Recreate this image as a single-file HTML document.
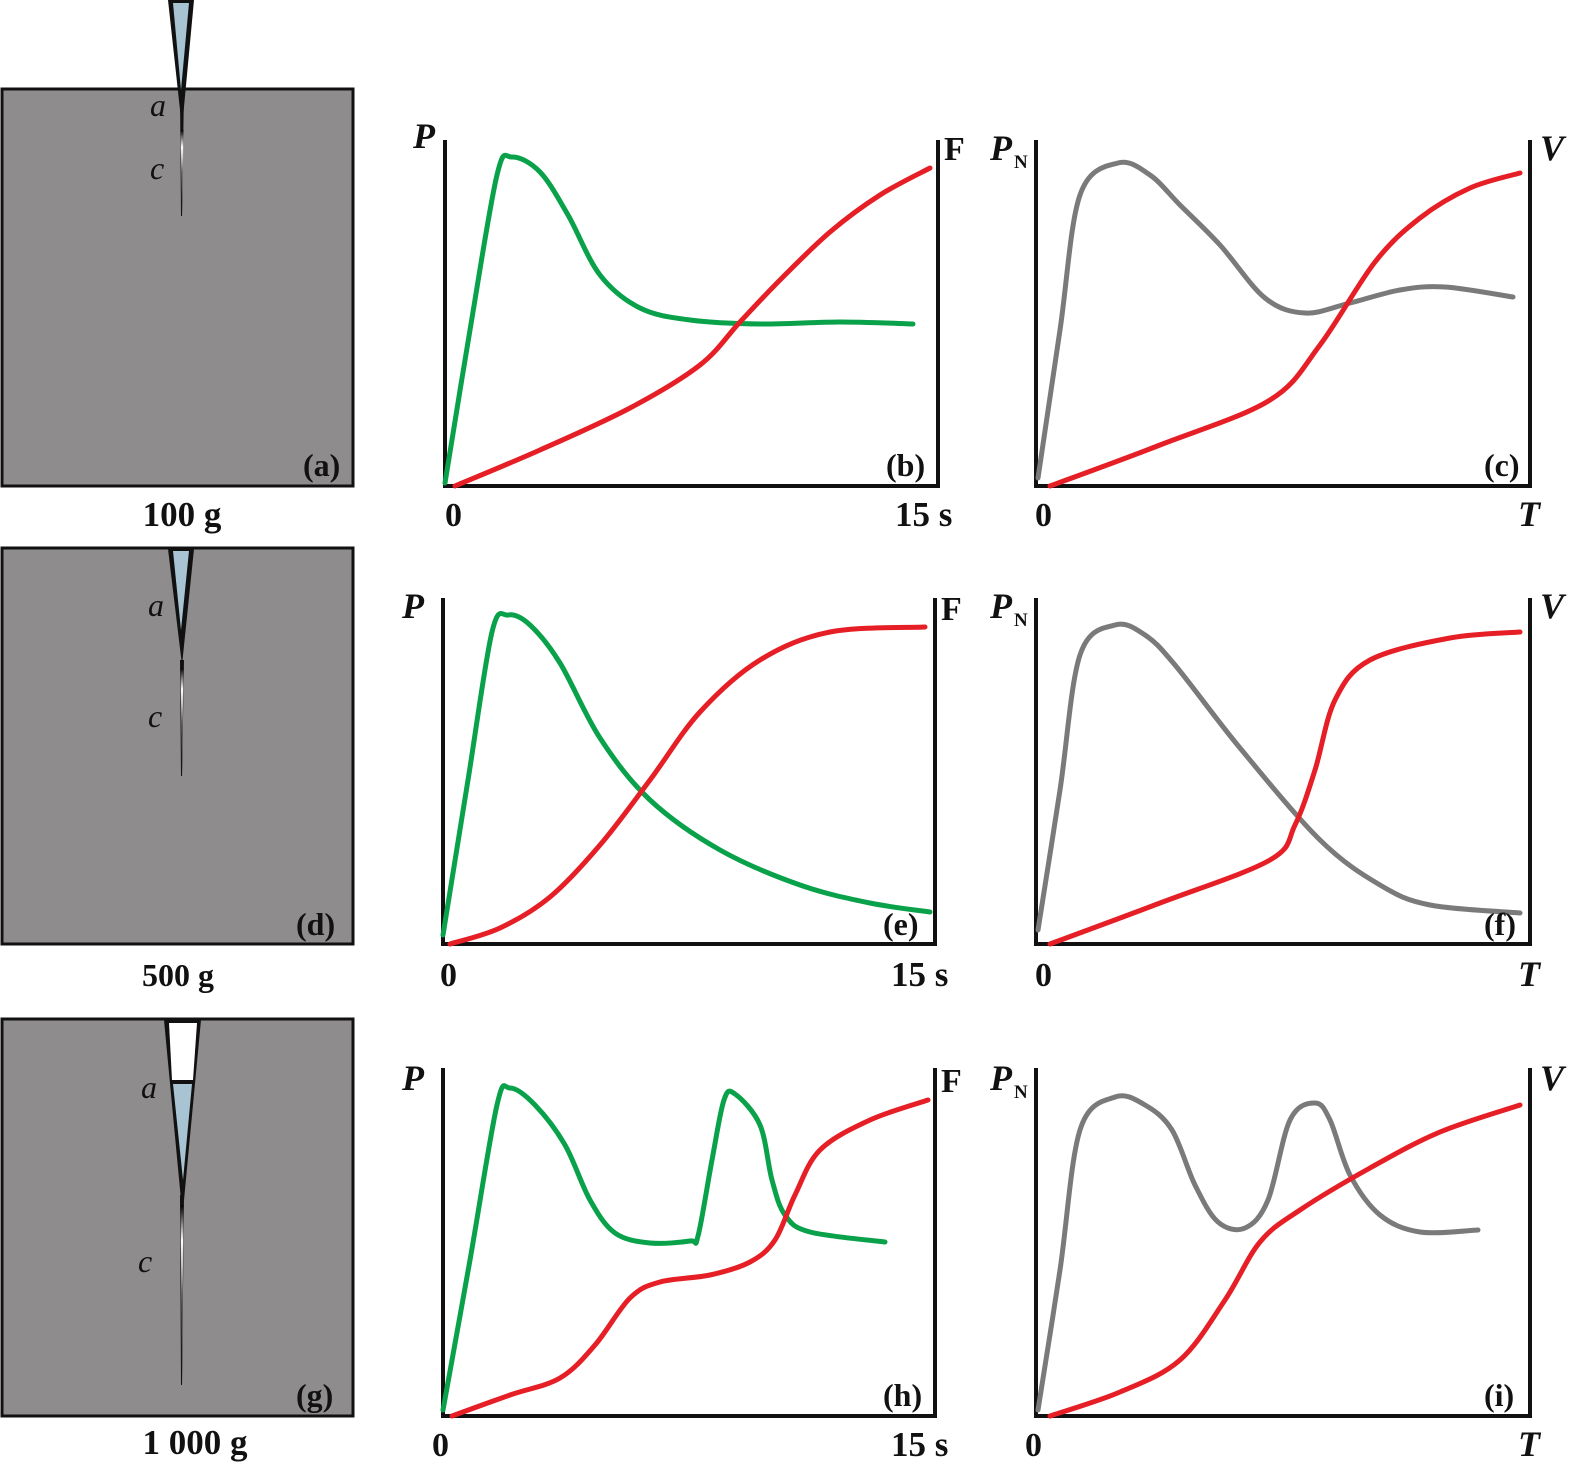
<!DOCTYPE html>
<html><head><meta charset="utf-8"><style>
html,body{margin:0;padding:0;background:#fff}
svg{display:block}
text{font-family:"Liberation Serif",serif;fill:#111}
</style></head><body>
<svg id="s" width="1587" height="1480" viewBox="0 0 1587 1480" xmlns="http://www.w3.org/2000/svg">
<defs>
<linearGradient id="cr" x1="0" y1="0" x2="0" y2="1">
<stop offset="0" stop-color="#000"/><stop offset="0.2" stop-color="#fff"/><stop offset="0.5" stop-color="#777"/><stop offset="1" stop-color="#111"/></linearGradient>
</defs>
<!-- panel a -->
<rect x="2" y="89" width="351" height="397" fill="#8e8c8d" stroke="#111" stroke-width="3"/>
<polygon points="168,0 194,0 182,128" fill="#111"/>
<polygon points="173,3 189,3 181,90" fill="#a8c3d1"/>
<polygon points="180,90 184,90 182,216 181,216" fill="#111"/>
<polygon points="180.5,130 183.5,130 182,216" fill="url(#cr)"/>
<text x="150" y="116" font-size="32" font-style="italic">a</text>
<text x="150" y="179" font-size="32" font-style="italic">c</text>
<text x="303" y="476" font-size="32" font-weight="bold">(a)</text>
<text x="182" y="526" font-size="35" font-weight="bold" text-anchor="middle">100 g</text>
<!-- panel d -->
<rect x="2" y="548" width="351" height="396" fill="#8e8c8d" stroke="#111" stroke-width="3"/>
<polygon points="168,549 194,549 182,665" fill="#111"/>
<polygon points="173,551 189,551 181,630" fill="#a8c3d1"/>
<polygon points="180,660 184,660 182,776 181,776" fill="#111"/>
<polygon points="180.5,668 183.5,668 182,776" fill="url(#cr)"/>
<text x="148" y="616" font-size="32" font-style="italic">a</text>
<text x="148" y="727" font-size="32" font-style="italic">c</text>
<text x="296" y="935" font-size="32" font-weight="bold">(d)</text>
<text x="178" y="986" font-size="32" font-weight="bold" text-anchor="middle">500 g</text>
<!-- panel g -->
<rect x="2" y="1019" width="351" height="397" fill="#8e8c8d" stroke="#111" stroke-width="3"/>
<polygon points="164,1020 201,1020 184,1200 181,1200" fill="#111"/>
<polygon points="169,1023 197,1023 193,1080 172,1080" fill="#fff"/>
<polygon points="173,1084 192,1084 183,1180" fill="#a8c3d1"/>
<polygon points="180,1195 184,1195 182,1385 181,1385" fill="#111"/>
<polygon points="180.5,1205 183.5,1205 182,1385" fill="url(#cr)"/>
<text x="141" y="1098" font-size="32" font-style="italic">a</text>
<text x="138" y="1272" font-size="32" font-style="italic">c</text>
<text x="296" y="1406" font-size="32" font-weight="bold">(g)</text>
<text x="195" y="1454" font-size="35" font-weight="bold" text-anchor="middle">1 000 g</text>

<g id="axes" fill="none" stroke="#111" stroke-width="4"></g>
<g id="curves" fill="none" stroke-width="5" stroke-linecap="round" stroke-linejoin="round"></g>
<g id="labels"></g>
</svg>
<script>
var NS="http://www.w3.org/2000/svg";
function el(p,t,a,txt){var e=document.createElementNS(NS,t);for(var k in a)e.setAttribute(k,a[k]);if(txt)e.textContent=txt;document.getElementById(p).appendChild(e);return e;}
function cr(pts){var d="M"+pts[0][0]+","+pts[0][1];for(var i=0;i<pts.length-1;i++){var p0=pts[i-1]||pts[i],p1=pts[i],p2=pts[i+1],p3=pts[i+2]||p2;
var c1=[p1[0]+(p2[0]-p0[0])/6,p1[1]+(p2[1]-p0[1])/6],c2=[p2[0]-(p3[0]-p1[0])/6,p2[1]-(p3[1]-p1[1])/6];
d+=" C"+c1+" "+c2+" "+p2;}return d;}
function axes(l,r,t,b){el("axes","path",{d:"M"+l+","+t+" L"+l+","+b+" L"+r+","+b+" L"+r+","+t});}
axes(445,938,140,486);axes(1036,1530,140,486);
axes(443,935,598,944);axes(1036,1530,598,944);
axes(443,935,1068,1416);axes(1036,1530,1068,1416);
var G="#0aa14b",R="#e61e25",Y="#7a7a7a";
var C=[
[G,[[445,483],[470,330],[497,175],[512,157],[540,172],[568,215],[600,275],[640,308],[690,320],[760,324],[840,322],[913,324]]],
[R,[[455,486],[540,450],[630,408],[700,365],[740,322],[780,280],[830,232],[880,195],[930,168]]],
[Y,[[1038,478],[1060,330],[1080,195],[1118,163],[1150,175],[1180,205],[1220,245],[1265,298],[1305,313],[1350,303],[1400,290],[1445,287],[1513,297]]],
[R,[[1050,486],[1160,445],[1270,400],[1320,345],[1375,262],[1420,218],[1470,188],[1520,173]]],
[G,[[443,935],[468,780],[492,632],[508,615],[530,625],[560,663],[600,738],[650,800],[720,850],[800,885],[870,903],[930,912]]],
[R,[[450,944],[500,928],[550,897],[600,845],[650,780],[700,712],[760,660],[830,632],[925,627]]],
[Y,[[1038,930],[1060,790],[1080,655],[1115,625],[1145,635],[1175,665],[1240,748],[1320,840],[1380,885],[1430,905],[1520,913]]],
[R,[[1050,944],[1160,903],[1270,860],[1295,825],[1315,770],[1335,700],[1370,660],[1450,638],[1520,632]]],
[G,[[443,1410],[470,1260],[497,1105],[510,1088],[535,1105],[565,1145],[590,1200],[615,1233],[650,1243],[690,1241],[698,1236],[712,1160],[724,1100],[735,1094],[760,1125],[772,1180],[785,1215],[810,1232],[885,1242]]],
[R,[[452,1416],[510,1395],[560,1378],[595,1345],[630,1298],[660,1282],[710,1275],[750,1262],[775,1240],[795,1195],[820,1150],[870,1120],[928,1100]]],
[Y,[[1038,1410],[1060,1270],[1080,1130],[1115,1097],[1145,1105],[1172,1130],[1195,1185],[1218,1222],[1245,1228],[1268,1200],[1290,1120],[1315,1103],[1330,1120],[1350,1175],[1380,1215],[1420,1232],[1478,1230]]],
[R,[[1050,1416],[1120,1392],[1180,1360],[1225,1300],[1260,1242],[1300,1210],[1370,1168],[1440,1132],[1520,1105]]]
];
C.forEach(function(c){el("curves","path",{d:cr(c[1]),stroke:c[0]});});
function T(x,y,s,t,it,anch){el("labels","text",{x:x,y:y,"font-size":s,"font-weight":"bold","font-style":it?"italic":"normal","text-anchor":anch||"start"},t);}
T(413,148,36,"P",1);T(944,160,34,"F");T(445,526,34,"0");T(895,526,35,"15 s");T(886,476,32,"(b)");
T(990,160,36,"P",1);T(1014,168,19,"N");T(1540,160,36,"V",1);T(1035,526,34,"0");T(1518,526,36,"T",1);T(1484,476,32,"(c)");
T(402,618,36,"P",1);T(941,620,34,"F");T(440,986,34,"0");T(891,986,35,"15 s");T(883,935,32,"(e)");
T(990,618,36,"P",1);T(1014,626,19,"N");T(1540,618,36,"V",1);T(1035,986,34,"0");T(1518,986,36,"T",1);T(1484,935,32,"(f)");
T(402,1090,36,"P",1);T(941,1092,34,"F");T(432,1456,34,"0");T(891,1456,35,"15 s");T(883,1406,32,"(h)");
T(990,1090,36,"P",1);T(1014,1098,19,"N");T(1540,1090,36,"V",1);T(1025,1456,34,"0");T(1518,1456,36,"T",1);T(1484,1406,32,"(i)");
</script>
</body></html>
